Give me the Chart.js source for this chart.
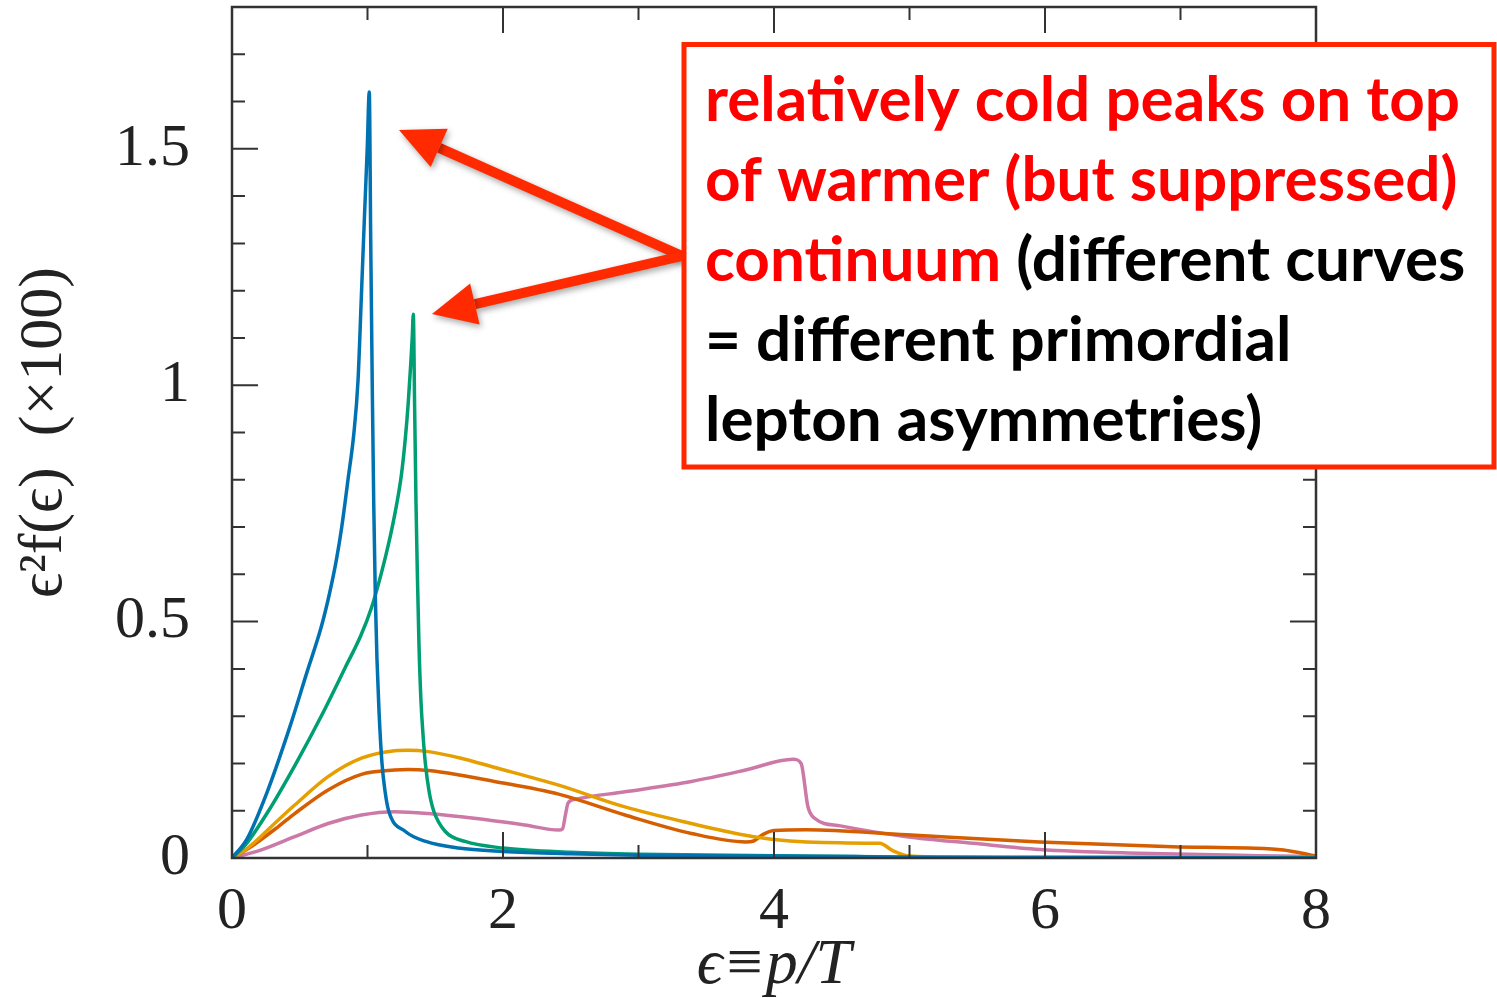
<!DOCTYPE html>
<html>
<head>
<meta charset="utf-8">
<script src="https://cdn.jsdelivr.net/npm/chart.js@4.4.1/dist/chart.umd.min.js"></script>
<style>
  html, body { margin: 0; padding: 0; background: #fff; }
  canvas { display: block; }
</style>
</head>
<body>
<canvas id="spectrum" width="1497" height="998"></canvas>
<script>
// eps^2 f(eps) (x100) against eps = p/T, one curve per primordial lepton asymmetry
const blueX = [0, 0.11, 0.26, 0.43, 0.55, 0.66, 0.72, 0.77, 0.81, 0.856, 0.90, 0.93, 0.955, 0.978, 0.998, 1.013, 1.024, 1.035, 1.046, 1.058, 1.07, 1.085, 1.107, 1.13, 1.156, 1.28, 1.43, 1.67, 2.0, 2.5, 3.0, 4.0, 4.6, 5.0, 6.0, 8.0];
const blueY = [0, 0.04, 0.14, 0.28, 0.39, 0.49, 0.56, 0.63, 0.70, 0.80, 0.90, 1.01, 1.19, 1.36, 1.50, 1.62, 1.30, 1.00, 0.75, 0.55, 0.42, 0.31, 0.20, 0.14, 0.10, 0.056, 0.035, 0.021, 0.014, 0.009, 0.006, 0.004, 0.003, 0.001, 0.0005, 0];

const greenX = [0, 0.10, 0.27, 0.48, 0.664, 0.836, 0.95, 1.03, 1.10, 1.16, 1.21, 1.25, 1.28, 1.30, 1.318, 1.33, 1.338, 1.348, 1.358, 1.368, 1.38, 1.395, 1.41, 1.427, 1.455, 1.488, 1.574, 1.72, 2.0, 2.5, 3.0, 4.0, 5.0, 6.0, 8.0];
const greenY = [0, 0.028, 0.10, 0.204, 0.303, 0.403, 0.47, 0.53, 0.60, 0.67, 0.74, 0.81, 0.89, 0.96, 1.04, 1.10, 1.15, 0.95, 0.75, 0.60, 0.45, 0.33, 0.26, 0.20, 0.14, 0.10, 0.056, 0.035, 0.021, 0.012, 0.008, 0.005, 0.002, 0.001, 0];

const orangeX = [0, 0.12, 0.34, 0.463, 0.709, 0.955, 1.2, 1.30, 1.45, 1.69, 1.92, 2.41, 2.9, 3.39, 3.79, 4.0, 4.49, 4.78, 4.88, 5.0, 5.3, 6.0, 8.0];
const orangeY = [0, 0.022, 0.08, 0.112, 0.172, 0.211, 0.227, 0.228, 0.225, 0.211, 0.193, 0.154, 0.108, 0.073, 0.048, 0.039, 0.032, 0.031, 0.015, 0.004, 0.002, 0.002, 0.001];

const redX = [0, 0.12, 0.34, 0.463, 0.709, 0.955, 1.2, 1.30, 1.45, 1.69, 1.92, 2.41, 2.9, 3.39, 3.79, 3.85, 3.92, 4.0, 4.24, 4.98, 5.96, 6.94, 7.5, 7.76, 7.9, 8.0];
const redY = [0, 0.02, 0.066, 0.094, 0.144, 0.177, 0.186, 0.187, 0.185, 0.175, 0.163, 0.135, 0.091, 0.052, 0.034, 0.036, 0.05, 0.058, 0.06, 0.049, 0.034, 0.024, 0.021, 0.017, 0.01, 0.004];

const pinkX = [0, 0.216, 0.463, 0.709, 0.955, 1.2, 1.45, 1.9, 2.16, 2.41, 2.44, 2.46, 2.48, 2.53, 2.9, 3.39, 3.79, 4.14, 4.2, 4.25, 4.3, 4.49, 4.98, 5.47, 5.96, 6.69, 7.58, 8.0];
const pinkY = [0, 0.017, 0.045, 0.073, 0.091, 0.098, 0.094, 0.08, 0.07, 0.059, 0.062, 0.09, 0.116, 0.124, 0.140, 0.162, 0.186, 0.209, 0.2, 0.109, 0.084, 0.068, 0.045, 0.031, 0.018, 0.01, 0.005, 0.003];

const xTicks = [0, 2, 4, 6, 8];
const yTicks = [0, 0.5, 1, 1.5];

const RED = '#ff0000';
const BLACK = '#000000';
const noteLines = [
    [['relatively cold peaks on top', RED]],
    [['of warmer (but suppressed)', RED]],
    [['continuum', RED], [' (different curves', BLACK]],
    [['= different primordial', BLACK]],
    [['lepton asymmetries)', BLACK]]
];

function points(xs, ys) {
    return xs.map((x, i) => ({ x: x, y: ys[i] }));
}

function series(xs, ys, color) {
    return {
        data: points(xs, ys),
        borderColor: color,
        backgroundColor: color,
        fill: false
    };
}

// inward tick marks on all four sides plus the frame
const frameTicks = {
    id: 'frameTicks',
    afterDraw(chart) {
        const { ctx, chartArea: a } = chart;
        const x = chart.scales.x, y = chart.scales.y;
        ctx.save();
        ctx.strokeStyle = '#333';
        ctx.lineWidth = 2;
        ctx.beginPath();
        y.ticks.forEach(t => {
            const py = y.getPixelForValue(t.value);
            const len = Math.round(t.value * 10) % 5 === 0 ? 26 : 13;
            ctx.moveTo(a.left, py); ctx.lineTo(a.left + len, py);
            ctx.moveTo(a.right, py); ctx.lineTo(a.right - len, py);
        });
        x.ticks.forEach(t => {
            const px = x.getPixelForValue(t.value);
            const len = xTicks.includes(t.value) ? 26 : 13;
            ctx.moveTo(px, a.bottom); ctx.lineTo(px, a.bottom - len);
            ctx.moveTo(px, a.top); ctx.lineTo(px, a.top + len);
        });
        ctx.stroke();
        ctx.lineWidth = 2.5;
        ctx.strokeRect(a.left, a.top, a.right - a.left, a.bottom - a.top);
        ctx.restore();
    }
};

function arrow(ctx, x0, y0, x1, y1) {
    const ang = Math.atan2(y1 - y0, x1 - x0);
    const head = 44, half = 21;
    const bx = x1 - head * Math.cos(ang), by = y1 - head * Math.sin(ang);
    ctx.beginPath();
    ctx.moveTo(x0, y0);
    ctx.lineTo(bx, by);
    ctx.stroke();
    ctx.beginPath();
    ctx.moveTo(x1, y1);
    ctx.lineTo(bx - half * Math.sin(ang), by + half * Math.cos(ang));
    ctx.lineTo(bx + half * Math.sin(ang), by - half * Math.cos(ang));
    ctx.closePath();
    ctx.fill();
}

// callout box with the two arrows pointing at the cold peaks
const note = {
    id: 'note',
    afterDraw(chart) {
        const ctx = chart.ctx;
        ctx.save();
        ctx.shadowColor = 'rgba(0,0,0,0.35)';
        ctx.shadowBlur = 6;
        ctx.shadowOffsetX = 2;
        ctx.shadowOffsetY = 3;
        ctx.strokeStyle = '#ff2a00';
        ctx.fillStyle = '#ff2a00';
        ctx.lineWidth = 10;
        arrow(ctx, 682, 256, 399, 130);
        arrow(ctx, 682, 256, 432, 314);
        ctx.restore();

        ctx.save();
        ctx.fillStyle = '#fff';
        ctx.fillRect(684, 44.5, 810, 422.5);
        ctx.strokeStyle = '#ff2600';
        ctx.lineWidth = 5;
        ctx.strokeRect(684, 44.5, 810, 422.5);

        ctx.font = 'bold 61px Lato';
        ctx.textBaseline = 'alphabetic';
        const sx = 755 / ctx.measureText(noteLines[0][0][0]).width;
        noteLines.forEach((segs, i) => {
            ctx.save();
            ctx.translate(705, 121 + i * 80);
            ctx.scale(sx, 1);
            let cx = 0;
            segs.forEach(([txt, col]) => {
                ctx.fillStyle = col;
                ctx.fillText(txt, cx, 0);
                cx += ctx.measureText(txt).width;
            });
            ctx.restore();
        });
        ctx.restore();
    }
};

const tickFont = { family: 'Liberation Serif', size: 60 };

new Chart(document.getElementById('spectrum'), {
    type: 'line',
    data: {
        datasets: [
            series(blueX, blueY, '#0072b2'),
            series(greenX, greenY, '#009e73'),
            series(orangeX, orangeY, '#e69f00'),
            series(redX, redY, '#d55e00'),
            series(pinkX, pinkY, '#cc79a7')
        ]
    },
    options: {
        responsive: false,
        animation: false,
        devicePixelRatio: 1,
        layout: { padding: { top: 7, right: 181, left: 0, bottom: 0 } },
        plugins: {
            legend: { display: false },
            tooltip: { enabled: false }
        },
        elements: {
            point: { radius: 0 },
            line: { borderWidth: 3.5, cubicInterpolationMode: 'monotone' }
        },
        scales: {
            x: {
                type: 'linear',
                min: 0,
                max: 8,
                grid: { display: false, drawTicks: false },
                border: { display: false },
                ticks: {
                    stepSize: 1,
                    autoSkip: false,
                    maxRotation: 0,
                    padding: 18,
                    color: '#222',
                    font: tickFont,
                    callback: v => xTicks.includes(v) ? String(v) : ''
                },
                title: {
                    display: true,
                    text: 'ϵ≡p/T',
                    color: '#222',
                    font: { family: 'Liberation Serif', size: 64, style: 'italic', lineHeight: 1 },
                    padding: { top: 0, bottom: 0 }
                },
                afterFit: s => { s.height = 140; }
            },
            y: {
                min: 0,
                max: 1.8,
                grid: { display: false, drawTicks: false },
                border: { display: false },
                ticks: {
                    stepSize: 0.1,
                    autoSkip: false,
                    padding: 42,
                    color: '#222',
                    font: tickFont,
                    callback: v => {
                        const h = Math.round(v * 10) / 10;
                        return yTicks.includes(h) ? String(h) : '';
                    }
                },
                title: {
                    display: true,
                    text: 'ϵ²f(ϵ)  (×100)',
                    color: '#222',
                    font: { family: 'Liberation Serif', size: 62 },
                    padding: { top: 8, bottom: 0 }
                },
                afterFit: s => {
                    s.width = 232;
                    s.paddingTop = 0;
                    s.paddingBottom = 0;
                }
            }
        }
    },
    plugins: [frameTicks, note]
});
</script>
</body>
</html>
